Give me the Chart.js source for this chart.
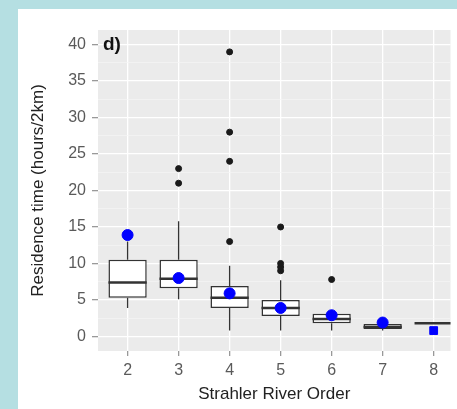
<!DOCTYPE html>
<html>
<head>
<meta charset="utf-8">
<script src="https://cdn.jsdelivr.net/npm/chart.js@4"></script>
<style>
  html, body { margin: 0; padding: 0; background: #b5dfe2; overflow: hidden; }
  #wrap { position: absolute; left: 18px; top: 9px; width: 439px; height: 400px; background: #fff; }
</style>
</head>
<body>
<div id="wrap"><canvas id="boxChart"></canvas></div>
<script>
// Strahler river order, one box per order
const orders = [2, 3, 4, 5, 6, 7, 8];
const whiskerLow = [3.9, 5.1, 0.8, 0.8, 0.8, 0.8, 1.8];
const q1 = [5.3, 6.6, 3.9, 2.8, 1.8, 1.0, 1.8];
const medians = [7.4, 7.9, 5.3, 3.9, 2.4, 1.3, 1.8];
const q3 = [10.5, 10.5, 6.9, 5.0, 3.1, 1.7, 1.8];
const whiskerHigh = [13.0, 15.8, 9.7, 7.7, 3.4, 2.0, 1.8];
const means = [13.9, 8.0, 5.9, 3.9, 2.9, 1.9, 0.8];
const outlierOrder = [3, 3, 4, 4, 4, 4, 5, 5, 5, 5, 6];
const outlierValue = [21, 23, 13, 24, 28, 39, 9, 9.5, 10, 15, 7.8];
const yTicks = [0, 5, 10, 15, 20, 25, 30, 35, 40];

const boxHalf = 0.375;
const font = "'Liberation Sans', Arial, sans-serif";

const whiskerPts = [];
const medianPts = [];
orders.forEach((o, i) => {
  whiskerPts.push({ x: o, y: whiskerLow[i] }, { x: o, y: q1[i] }, { x: o, y: NaN });
  whiskerPts.push({ x: o, y: q3[i] }, { x: o, y: whiskerHigh[i] }, { x: o, y: NaN });
  medianPts.push({ x: o - boxHalf, y: medians[i] }, { x: o + boxHalf, y: medians[i] }, { x: o, y: NaN });
});

const panelBg = {
  id: "panelBg",
  beforeDraw(chart) {
    const { ctx, chartArea: a } = chart;
    ctx.save();
    ctx.fillStyle = "#ebebeb";
    ctx.fillRect(a.left, a.top, a.right - a.left, a.bottom - a.top);
    ctx.restore();
  },
  afterDraw(chart) {
    const { ctx, chartArea: a, scales } = chart;
    ctx.save();
    ctx.font = "bold 19px " + font;
    ctx.fillStyle = "#111";
    ctx.textBaseline = "middle";
    ctx.fillText("d)", a.left + 5, scales.y.getPixelForValue(40));
    ctx.restore();
  }
};

new Chart(document.getElementById("boxChart"), {
  type: "bar",
  data: {
    datasets: [
      {
        type: "scatter",
        data: orders.map((o, i) => ({ x: o, y: means[i] })),
        backgroundColor: "#0000ff",
        borderColor: "#0000ff",
        pointRadius: 5.5,
        pointStyle: orders.map(o => (o === 8 ? "rect" : "circle")),
        order: 0
      },
      {
        type: "scatter",
        data: outlierOrder.map((o, i) => ({ x: o, y: outlierValue[i] })),
        backgroundColor: "#1a1a1a",
        borderColor: "#1a1a1a",
        pointRadius: 3,
        order: 1
      },
      {
        type: "line",
        data: medianPts,
        borderColor: "#333",
        borderWidth: 2.5,
        pointRadius: 0,
        spanGaps: false,
        order: 2
      },
      {
        type: "line",
        data: whiskerPts,
        borderColor: "#333",
        borderWidth: 1.3,
        pointRadius: 0,
        spanGaps: false,
        order: 3
      },
      {
        type: "bar",
        data: orders.map((o, i) => ({ x: o, y: [q1[i], q3[i]] })),
        backgroundColor: "#ffffff",
        borderColor: "#333",
        borderWidth: 1.5,
        borderSkipped: false,
        categoryPercentage: 1,
        barPercentage: 0.75,
        order: 4
      }
    ]
  },
  options: {
    responsive: true,
    maintainAspectRatio: false,
    animation: false,
    layout: { padding: { left: 6, top: 21, right: 0, bottom: 0 } },
    plugins: { legend: { display: false }, tooltip: { enabled: false } },
    scales: {
      x: {
        type: "linear",
        min: 1.42,
        max: 8.33,
        offset: false,
        border: { display: false },
        grid: { offset: false, color: "#ffffff", lineWidth: 1.3, tickColor: "#999", tickLength: 5 },
        ticks: {
          stepSize: 1,
          includeBounds: false,
          color: "#5a5a5a",
          font: { family: font, size: 16 },
          padding: 5,
          maxRotation: 0
        },
        title: {
          display: true,
          text: "Strahler River Order",
          color: "#222",
          font: { family: font, size: 17 },
          padding: { top: 0, bottom: 4 }
        },
        afterFit(scale) { scale.height = 58; }
      },
      y: {
        min: -2,
        max: 42,
        border: { display: false },
        grid: {
          color: ctx => (yTicks.includes(ctx.tick.value) ? "#ffffff" : "#f5f5f5"),
          lineWidth: ctx => (yTicks.includes(ctx.tick.value) ? 1.3 : 0.7),
          tickColor: ctx => (yTicks.includes(ctx.tick.value) ? "#999" : "rgba(0,0,0,0)"),
          tickLength: 6
        },
        ticks: {
          stepSize: 2.5,
          includeBounds: false,
          autoSkip: false,
          color: "#5a5a5a",
          font: { family: font, size: 16 },
          padding: 6,
          callback: v => (yTicks.includes(v) ? v : "")
        },
        title: {
          display: true,
          text: "Residence time (hours/2km)",
          color: "#222",
          font: { family: font, size: 17 },
          padding: { top: 4, bottom: 4 }
        },
        afterFit(scale) { scale.width = 74; }
      }
    }
  },
  plugins: [panelBg]
});
</script>
</body>
</html>
